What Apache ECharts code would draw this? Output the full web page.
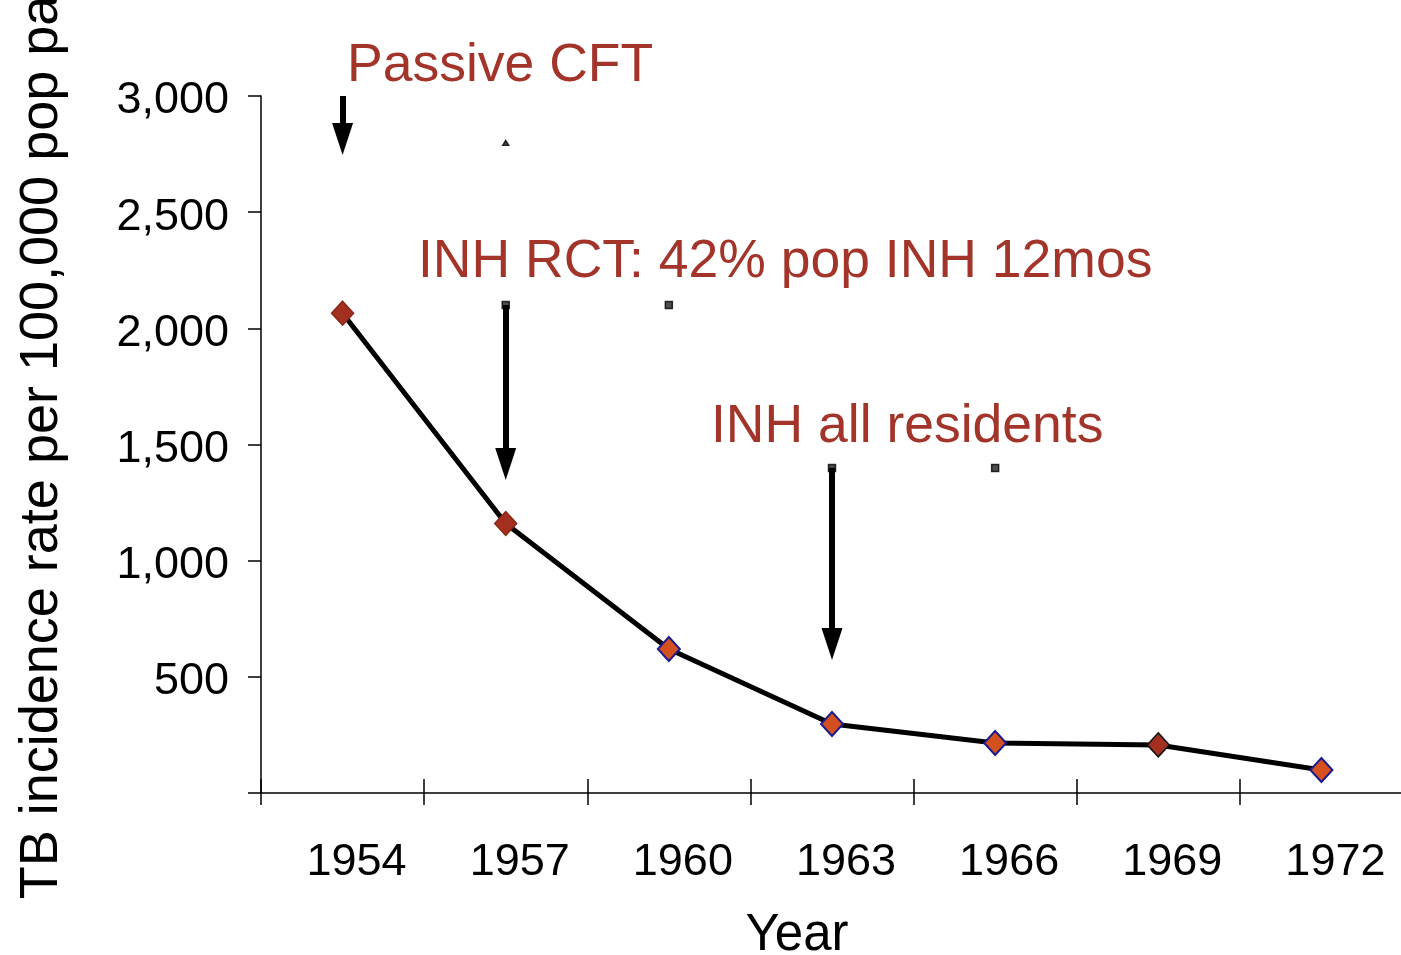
<!DOCTYPE html>
<html>
<head>
<meta charset="utf-8">
<title>TB incidence</title>
<script src="https://cdn.jsdelivr.net/npm/echarts@6/dist/echarts.min.js"></script>
<style>
  html, body { margin: 0; padding: 0; background: #fff; }
  #chart { width: 1401px; height: 955px; }
</style>
</head>
<body>
<div id="chart"></div>
<script>
// data
const years = ['1954', '1957', '1960', '1963', '1966', '1969', '1972']
const incidence = [2065, 1160, 620, 297, 215, 207, 99]
const yTicks = [0, 500, 1000, 1500, 2000, 2500, 3000]

// arrows: [category, fromValue, toValue]
const arrows = [
  ['1954', 3000, 2815],
  ['1957', 2100, 1416],
  ['1963', 1400, 641]
]
// small stray marks left on the slide
const strayMarks = [
  ['1957', 2798],
  ['1957', 2100],
  ['1960', 2100],
  ['1963', 1399],
  ['1966', 1399]
]
const notes = ['Passive CFT', 'INH RCT: 42% pop INH 12mos', 'INH all residents']

const FONT = "'Liberation Sans', Arial, Helvetica, sans-serif"
const RED = '#a2342a'
const darkPoints = [0, 1, 5]

const chart = echarts.init(document.getElementById('chart'))

chart.setOption({
  animation: false,
  grid: {
    left: 261,
    right: -2,
    top: 96,
    bottom: 162,
    outerBoundsMode: 'none'
  },
  xAxis: [
    {
      type: 'category',
      data: years,
      position: 'bottom',
      boundaryGap: true,
      name: 'Year',
      nameLocation: 'middle',
      nameGap: 117,
      nameTextStyle: { fontFamily: FONT, fontSize: 51, color: '#000', padding: [0, 70, 0, 0] },
      axisLine: { show: true, lineStyle: { color: '#000', width: 1.5 } },
      axisTick: { show: true, length: 12, lineStyle: { color: '#000', width: 1.5 } },
      axisLabel: {
        fontFamily: FONT,
        fontSize: 45,
        color: '#000',
        margin: 47,
        padding: [0, 0, 0, 28]
      },
      splitLine: { show: false }
    },
    {
      // inner half of the crossing ticks
      type: 'category',
      data: years,
      position: 'bottom',
      offset: 0,
      boundaryGap: true,
      axisLine: { show: false },
      axisTick: { show: true, inside: true, length: 14, lineStyle: { color: '#000', width: 1.5 } },
      axisLabel: { show: false },
      splitLine: { show: false }
    }
  ],
  yAxis: {
    type: 'value',
    min: yTicks[0],
    max: yTicks[yTicks.length - 1],
    interval: 500,
    name: 'TB incidence rate per 100,000 pop pa',
    nameLocation: 'middle',
    nameGap: 192,
    nameTextStyle: { fontFamily: FONT, fontSize: 54, color: '#000', padding: [0, 6, 0, 0] },
    axisLine: { show: true, lineStyle: { color: '#000', width: 1.5 } },
    axisTick: { show: true, length: 13, lineStyle: { color: '#000', width: 1.5 } },
    axisLabel: {
      fontFamily: FONT,
      fontSize: 45,
      color: '#000',
      margin: 32,
      verticalAlign: 'top',
      lineHeight: 10,
      formatter: v => (v === 0 ? '' : v.toLocaleString('en-US'))
    },
    splitLine: { show: false }
  },
  series: [
    {
      name: 'incidence',
      type: 'line',
      data: incidence.map((v, i) => ({
        value: v,
        itemStyle: darkPoints.includes(i)
          ? { color: '#a3301f', borderColor: i === 5 ? '#111' : '#8a2618', borderWidth: 1.5 }
          : { color: '#d4511f', borderColor: '#1a1a90', borderWidth: 2 }
      })),
      symbol: 'diamond',
      symbolSize: [22, 24],
      lineStyle: { color: '#000', width: 5 },
      z: 3,
      markLine: {
        silent: true,
        symbol: ['none', 'triangle'],
        symbolSize: [21, 32],
        label: { show: false },
        lineStyle: { color: '#000', width: 6, type: 'solid' },
        data: arrows.map(a => [
          { coord: [a[0], a[1]] },
          { coord: [a[0], a[2]] }
        ])
      }
    },
    {
      name: 'marks',
      type: 'scatter',
      xAxisIndex: 1,
      data: strayMarks.map((m, i) => ({
        value: m,
        symbol: i === 0 ? 'triangle' : 'rect',
        symbolSize: i === 0 ? [6, 5] : 7
      })),
      itemStyle: { color: '#222', borderColor: '#000', borderWidth: 1.5 },
      silent: true,
      z: 2
    }
  ],
  graphic: [
    { type: 'text', left: 347, top: 39, style: { text: notes[0], fill: RED, font: '53.5px ' + FONT } },
    { type: 'text', left: 418, top: 235, style: { text: notes[1], fill: RED, font: '53.5px ' + FONT } },
    { type: 'text', left: 711, top: 400, style: { text: notes[2], fill: RED, font: '53.5px ' + FONT } }
  ]
})
</script>
</body>
</html>
